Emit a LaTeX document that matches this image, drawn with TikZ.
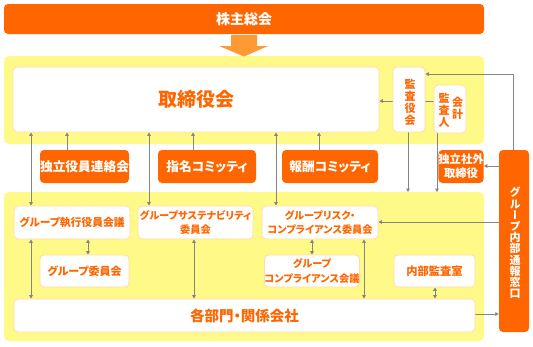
\documentclass[tikz,border=0pt]{standalone}
\usepackage{fontspec}
\setmainfont{Noto Sans CJK JP}[RawFeature=+palt]
\newfontfamily\vjp{Noto Sans CJK JP}[RawFeature=+vert]
\usetikzlibrary{arrows.meta}
\definecolor{orangec}{HTML}{FF6600}
\definecolor{yelc}{HTML}{FFFA88}
\definecolor{bordc}{HTML}{FFD9A6}
\definecolor{grayc}{HTML}{858585}
\definecolor{lorange}{HTML}{FF9933}
\pgfdeclarelayer{bg}
\pgfdeclarelayer{mid}
\pgfsetlayers{bg,mid,main}
\begin{document}
\begin{tikzpicture}[x=1pt,y=-1pt,
  wh/.style 2 args={minimum width=#1pt, minimum height=#2pt},
  fs/.style 2 args={font=\bfseries\fontsize{#1}{#2}\selectfont},
  panel/.style={fill=yelc, draw=none, rounded corners=5pt, inner sep=0pt},
  wbox/.style={fill=white, draw=bordc, line width=0.7pt, rounded corners=4pt, inner sep=0pt, text=orangec, align=center},
  obox/.style={fill=orangec, draw=none, rounded corners=4pt, inner sep=0pt, text=white, align=center},
  lbl/.style={inner sep=0pt, align=center},
  arr/.style={draw=grayc, line width=0.9pt, -{Triangle[length=3.5pt,width=3.6pt]}},
  darr/.style={draw=grayc, line width=0.9pt, {Triangle[length=3.5pt,width=3.6pt]}-{Triangle[length=3.5pt,width=3.6pt]}}
]
\useasboundingbox (0,0) rectangle (533,346);

% panels
\begin{pgfonlayer}{bg}
\node[panel, wh={480}{88}] (ptop) at (244,100) {};
\node[panel, wh={480}{149}] (pbot) at (244,266.5) {};
\end{pgfonlayer}

% top
\node[obox, wh={480}{30}, fs={14}{16}] (kabu) at (244,19) {株主総会};
\fill[lorange] (231,35) -- (257,35) -- (257,46) -- (268,46) -- (244,56.5) -- (219,46) -- (231,46) -- cycle;

\node[wbox, wh={366}{65}, fs={19}{22}] (tori) at (196,99.5) {取締役会};
\node[wbox, wh={32}{65}] (kansa) at (409,99.5) {};
\node[lbl, text=orangec, fs={11}{12}] (kansaT) at (410,102.5) {監\\査\\役\\会};
\node[wbox, wh={32}{48}] (kaikei) at (450,109) {};
\node[lbl, text=orangec, fs={11}{12}] (kaikeiA) at (444,110) {監\\査\\人};
\node[lbl, text=orangec, fs={11}{12}] (kaikeiB) at (457.5,108) {会\\計};

\node[obox, wh={89}{33}, fs={12.7}{15}] (dokuritsu) at (84.5,166.5) {独立役員連絡会};
\node[obox, wh={98}{33}, fs={12.7}{15}] (shimei) at (207,166.5) {指名コミッティ};
\node[obox, wh={96}{33}, fs={12.7}{15}] (hoshu) at (330,166.5) {報酬コミッティ};
\node[obox, wh={44}{33}, fs={11.3}{14}] (gaibu) at (461,166.5) {独立社外\\取締役};
\node[obox, wh={30}{182}] (mado) at (514,241) {};
\node[lbl, text=white, font=\vjp\bfseries\fontsize{11}{11.2}\selectfont] (madoT) at (515,243) {グ\\ル\\ー\\プ\\内\\部\\通\\報\\窓\\口};

% lower
\node[wbox, wh={116}{33}, fs={10.8}{14}] (shikko) at (72,222.5) {グループ執行役員会議};
\node[wbox, wh={115}{33}, fs={10.2}{14.5}] (sus) at (195.5,222.5) {グループサステナビリティ\\委員会};
\node[wbox, wh={116}{33}, fs={10.2}{14.5}] (risk) at (320,222.5) {グループリスク・\\コンプライアンス委員会};
\node[wbox, wh={89}{32}, fs={11}{14}] (iinkai) at (84.5,271) {グループ委員会};
\node[wbox, wh={92}{32}, fs={10.2}{14.5}] (compl) at (312,271) {グループ\\コンプライアンス会議};
\node[wbox, wh={81}{32}, fs={11.3}{14}] (naibu) at (434.5,271) {内部監査室};
\node[wbox, wh={461}{33}, fs={14.5}{16}] (kakubu) at (244.5,315.5) {各部門・関係会社};

\coordinate (botTop) at (0,192);
\coordinate (madoTurn) at (513,74);

\begin{pgfonlayer}{mid}
% into board
\draw[arr] (67,0 |- dokuritsu.north) -- (67,0 |- tori.south);
\draw[arr] (193,0 |- shimei.north) -- (193,0 |- tori.south);
\draw[arr] (319,0 |- hoshu.north) -- (319,0 |- tori.south);
\draw[darr] (31,0 |- tori.south) -- (31,0 |- shikko.north);
\draw[darr] (149,0 |- tori.south) -- (149,0 |- sus.north);
\draw[darr] (276,0 |- tori.south) -- (276,0 |- risk.north);
% audit
\draw[arr] (kaikei.west |- 0,101) -- (tori.east |- 0,101);
\draw[arr] (408,0 |- kansa.south) -- (408,0 |- botTop);
\draw[arr] (437,0 |- kaikei.south) -- (437,0 |- botTop);
% whistleblowing
\draw[arr] (madoTurn |- mado.north) -- (madoTurn) -- (kansa.east |- madoTurn);
\draw[arr] (mado.west |- 0,166) -- (gaibu.east |- 0,166);
\draw[arr] (mado.west |- 0,222) -- (risk.east |- 0,222);
\draw[arr] (kakubu.east |- 0,314) -- (mado.west |- 0,314);
% lower
\draw[darr] (31,0 |- shikko.south) -- (31,0 |- kakubu.north);
\draw[darr] (88,0 |- shikko.south) -- (88,0 |- iinkai.north);
\draw[darr] (194,0 |- sus.south) -- (194,0 |- kakubu.north);
\draw[darr] (312,0 |- risk.south) -- (312,0 |- compl.north);
\draw[darr] (364,0 |- risk.south) -- (364,0 |- kakubu.north);
\draw[darr] (435,0 |- naibu.south) -- (435,0 |- kakubu.north);
\end{pgfonlayer}
\end{tikzpicture}
\end{document}
